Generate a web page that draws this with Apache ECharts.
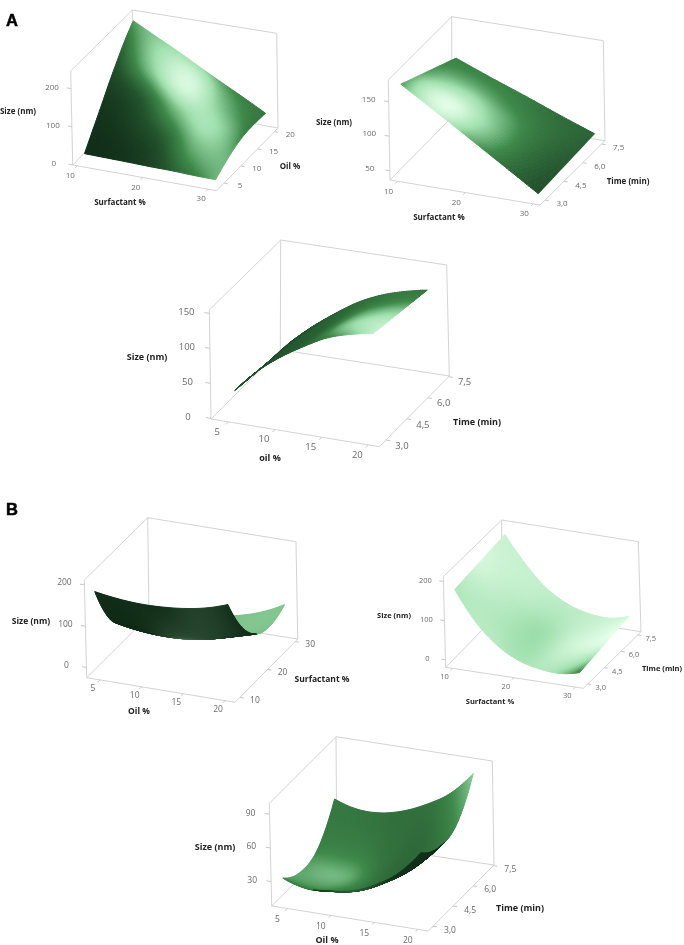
<!DOCTYPE html>
<html>
<head>
<meta charset="utf-8">
<style>
  html, body { margin: 0; background: #fff; }
  #chart { width: 684px; height: 945px; }
</style>
<script src="https://cdn.jsdelivr.net/npm/echarts@6/dist/echarts.min.js"></script>
</head>
<body>
<div id="chart"></div>
<script>
// values
const oilA1 = [5, 7.5, 10, 12.5, 15, 17.5, 20];
const surfA1 = [10, 13.33, 16.67, 20, 23.33, 26.67, 30];
const sizeA1 = [
  [12, 11, 10, 8.5, 8, 6, 5],
  [50, 45, 40, 35, 30, 25, 20],
  [88, 79, 70, 60, 51, 42, 33],
  [128, 114, 100, 85, 71, 56, 42],
  [165, 145, 125, 105, 86, 66, 46],
  [200, 175, 148, 123, 98, 72, 46],
  [229, 198, 168, 136, 105, 75, 44]
];

const surfA2 = [10, 15, 20, 25, 30];
const timeA2 = [3, 4.5, 6, 7.5];
const sizeA2 = [
  [170, 138.5, 107, 75.5, 44],
  [156, 128, 101, 73, 46],
  [142, 118, 95, 71, 48],
  [128, 108, 89, 69, 50]
];

const oilA3 = [5, 7.5, 10, 12.5, 15, 17.5, 20];
const timeA3 = [3, 4.3, 5.6, 6.9];
const sizeA3 = [
  [34, 67, 92, 112, 129, 139, 145],
  [30, 62, 87, 107, 124, 134, 140],
  [27, 57, 82, 102, 118, 128, 135],
  [24.5, 53, 77, 98, 113, 123, 130]
];

const oilB1 = [4, 6.67, 9.33, 12, 14.67, 17.33, 20];
const surfB1 = [10, 15, 20, 25, 30];
const sizeB1 = [
  [174, 166, 162, 163, 168, 178, 195],
  [75, 65, 60, 62, 70, 85, 105],
  [30, 22, 19, 20, 28, 42, 57],
  [8, 0, -3, 0, 8, 24, 45],
  [5, 5, 4, 8, 18, 35, 61]
];

const surfB2 = [10, 13.33, 16.67, 20, 23.33, 26.67, 30];
const timeB2 = [3, 4.5, 6, 7.5];
const sizeB2 = [
  [171, 95, 45, 15, 1, -3, 7],
  [176, 103, 52, 21, 6, 3, 13],
  [181, 110, 58, 27, 11, 8, 20],
  [186, 118, 65, 33, 17, 13, 26]
];

const oilB3 = [4, 6.67, 9.33, 12, 14.67, 17.33, 20];
const timeB3 = [3, 4.3, 5.6, 6.9];
const sizeB3 = [
  [30, 24, 25, 28.5, 37, 50.5, 72],
  [20, 14, 14, 18, 28, 41, 61],
  [25, 19, 19, 23, 32, 45, 65],
  [54, 48, 48, 53, 62, 74.5, 95]
];

// tick labels
const oilTicks = ['5', '10', '15', '20'];
const surfTicks = ['10', '20', '30'];
const timeTicks = ['3,0', '4,5', '6,0', '7,5'];
const sizeTicksA1 = ['0', '100', '200'];
const sizeTicksA2 = ['50', '100', '150'];
const sizeTicksA3 = ['0', '50', '100', '150'];
const sizeTicksB = ['0', '100', '200'];
const sizeTicksB3 = ['30', '60', '90'];

// colour ramps and light maps (5x5, rows along the depth axis)
const ramp = ['#0f2a16', '#24552e', '#3f8a4b', '#a0e0ae', '#e6ffea'];
const grayRamp = ['#0f2a16', '#2a4a33', '#5e8a6c'];
const lightA1 = [
  [.02, .05, .15, .38, .62],
  [.05, .12, .28, .62, .62],
  [.14, .28, .62, .78, .5],
  [.3, .72, .95, .68, .42],
  [.56, .72, .75, .5, .42]
];
const lightA2 = [
  [.55, .9, .62, .38, .22],
  [.62, .98, .72, .42, .24],
  [.55, .8, .65, .42, .27],
  [.5, .58, .5, .4, .3],
  [.46, .46, .44, .36, .32]
];
const lightA3 = [
  [.18, .25, .32, .55, .88],
  [.18, .26, .34, .72, .85],
  [.2, .28, .35, .62, .7],
  [.2, .28, .36, .46, .5],
  [.2, .28, .36, .42, .42]
];
const lightB1 = [
  [.65, .65, .65, .65, .65],
  [.65, .65, .65, .65, .65],
  [.65, .65, .65, .65, .65],
  [.65, .65, .65, .67, .67],
  [.65, .65, .65, .67, .67]
];
const underB1 = [
  [.03, .05, .1, .35, .1],
  [.03, .05, .45, .4, .06],
  [.03, .1, 1, .3, .05],
  [.03, .05, .3, .08, .03],
  [.03, .03, .03, .03, .03]
];
const lightB2 = [
  [.8, .84, .78, .8, .46],
  [.87, .81, .75, .87, .76],
  [.94, .83, .75, .92, .96],
  [.92, .87, .81, .9, 1],
  [.89, .88, .85, .88, .93]
];
const lightB3 = [
  [.5, .42, .38, .37, .36],
  [.58, .54, .4, .36, .4],
  [.56, .62, .39, .35, .45],
  [.44, .46, .38, .36, .55],
  [.42, .4, .37, .42, .7]
];
const underB3 = [
  [.04, .1, .3, .1, .04],
  [.04, .08, .2, .06, .03],
  [.03, .05, .05, .03, .03],
  [.03, .03, .03, .03, .03],
  [.03, .03, .03, .03, .03]
];

const panels = [
  {
    box: { fl: [72.7, 165], fr: [216.7, 190.7], br: [278, 128], bl: [133.5, 102], tl: [70.7, 71], tfr: [215, 94.5], tr: [276.7, 33.3], tb: [132.3, 10] },
    xr: [9.3, 31.3], yr: [2.8, 21.1], zr: [0, 246],
    xs: surfA1, ys: oilA1, z: sizeA1, top: lightA1, under: lightA1,
    xt: surfTicks, yt: oilTicks, zt: sizeTicksA1,
    xo: [-7, 10], yo: [16, 3], zo: [-19, -1], tickFont: 8,
    titles: [['Size (nm)', 18, 112], ['Surfactant %', 120, 203], ['Oil %', 290, 167]], titleFont: 8
  },
  {
    box: { fl: [390, 180], fr: [540, 205], br: [605, 140.7], bl: [452, 117], tl: [388.3, 80], tfr: [540, 104], tr: [603.3, 40.7], tb: [451.7, 16.7] },
    xr: [8.9, 31], yr: [2.6, 7.77], zr: [36.5, 181.4],
    xs: surfA2, ys: timeA2, z: sizeA2, top: lightA2, under: lightA2,
    xt: surfTicks, yt: timeTicks, zt: sizeTicksA2,
    xo: [-9, 10], yo: [17, 4], zo: [-20, -2], tickFont: 8,
    titles: [['Size (nm)', 334, 123], ['Surfactant %', 439, 218], ['Time (min)', 628, 182]], titleFont: 8
  },
  {
    box: { fl: [211, 419], fr: [379.3, 446.7], br: [449.3, 376], bl: [280.3, 349.7], tl: [209.3, 310], tfr: [376.7, 335], tr: [446.7, 265], tb: [280.7, 240] },
    xr: [3.15, 21.17], yr: [2.52, 7.55], zr: [-1, 154.8],
    xs: oilA3, ys: timeA3, z: sizeA3, top: lightA3, under: lightA3,
    xt: oilTicks, yt: timeTicks, zt: sizeTicksA3,
    xo: [-11, 10], yo: [16, 6], zo: [-23, -1], tickFont: 9.5,
    titles: [['Size (nm)', 147, 357], ['oil %', 270, 458], ['Time (min)', 477, 422]], titleFont: 9
  },
  {
    box: { fl: [86.7, 677.7], fr: [235, 702.3], br: [297.7, 639], bl: [149, 615.7], tl: [84.3, 580], tfr: [232.7, 604], tr: [296, 541.7], tb: [147.7, 517.7] },
    xr: [3.4, 21.2], yr: [8.2, 30.9], zr: [-25, 212],
    xs: oilB1, ys: surfB1, z: sizeB1, top: lightB1, under: underB1, underRamp: grayRamp,
    xt: oilTicks, yt: surfTicks, zt: sizeTicksB,
    xo: [-7, 9], yo: [15, 3], zo: [-20, -2], tickFont: 8.5,
    titles: [['Size (nm)', 31, 622], ['Oil %', 139, 712], ['Surfactant %', 322, 680]], titleFont: 8.5
  },
  {
    box: { fl: [445.7, 667.3], fr: [583.3, 688.3], br: [641, 631.7], bl: [501.7, 610], tl: [443.3, 576.7], tfr: [580, 598.3], tr: [638.3, 541.7], tb: [501.7, 520] },
    xr: [8.9, 31.3], yr: [2.6, 7.8], zr: [-19, 212],
    xs: surfB2, ys: timeB2, z: sizeB2, top: lightB2, under: lightB2,
    xt: surfTicks, yt: timeTicks, zt: sizeTicksB,
    xo: [-8, 9], yo: [13, 4], zo: [-18, -1], tickFont: 7.5,
    titles: [['Size (nm)', 394, 616], ['Surfactant %', 490, 702], ['Time (min)', 662, 669]], titleFont: 7.5
  },
  {
    box: { fl: [271.7, 906], fr: [428.3, 931], br: [494, 865], bl: [336.7, 841.7], tl: [269.3, 803.3], tfr: [426, 827.7], tr: [492.3, 761], tb: [336, 736.7] },
    xr: [3.2, 21.2], yr: [2.65, 7.55], zr: [8.3, 99.7],
    xs: oilB3, ys: timeB3, z: sizeB3, top: lightB3, under: underB3,
    xt: oilTicks, yt: timeTicks, zt: sizeTicksB3,
    xo: [-10, 11], yo: [17, 4], zo: [-19, -1], tickFont: 8.5,
    titles: [['Size (nm)', 215, 847], ['Oil %', 327, 940], ['Time (min)', 520, 908]], titleFont: 9
  }
];

const tickNum = (s) => parseFloat(s.replace(',', '.'));
const lerp2 = (a, b, t) => [a[0] + (b[0] - a[0]) * t, a[1] + (b[1] - a[1]) * t];

// trilinear map of the box corners, close enough to the perspective of the original
function project(p, x, y, z) {
  const u = (x - p.xr[0]) / (p.xr[1] - p.xr[0]);
  const v = (y - p.yr[0]) / (p.yr[1] - p.yr[0]);
  const w = (z - p.zr[0]) / (p.zr[1] - p.zr[0]);
  const b = p.box;
  const low = lerp2(lerp2(b.fl, b.fr, u), lerp2(b.bl, b.br, u), v);
  const high = lerp2(lerp2(b.tl, b.tfr, u), lerp2(b.tb, b.tr, u), v);
  return lerp2(low, high, w);
}

function catmull(a, b, c, d, t) {
  return 0.5 * (2 * b + (c - a) * t + (2 * a - 5 * b + 4 * c - d) * t * t + (3 * b - a - 3 * c + d) * t * t * t);
}

// one step past the ends of a list, keeps the curve from wobbling at the rim
function pick(list, k) {
  const n = list.length - 1;
  if (k < 0) return list.length > 2 ? 3 * list[0] - 3 * list[1] + list[2] : 2 * list[0] - list[1];
  if (k > n) return list.length > 2 ? 3 * list[n] - 3 * list[n - 1] + list[n - 2] : 2 * list[n] - list[n - 1];
  return list[k];
}

// smooth reading of a small grid, s and t are in 0..1
function sampleGrid(grid, s, t) {
  const rows = grid.length - 1;
  const cols = grid[0].length - 1;
  const fi = Math.min(s * cols, cols - 1e-6);
  const fj = Math.min(t * rows, rows - 1e-6);
  const i = Math.floor(fi);
  const j = Math.floor(fj);
  const along = (row) => catmull(pick(row, i - 1), row[i], row[i + 1], pick(row, i + 2), fi - i);
  const across = grid.map(along);
  return catmull(pick(across, j - 1), across[j], across[j + 1], pick(across, j + 2), fj - j);
}

function renderSurfaceCell(p, params, api) {
  const i = api.value(0);
  const j = api.value(1);
  const cols = p.xs.length - 1;
  const rows = p.ys.length - 1;
  const subX = Math.round(60 / cols);
  const subY = Math.round(60 / rows);
  const point = (s, t) => {
    const x = p.xs[0] + (p.xs[cols] - p.xs[0]) * s;
    const y = p.ys[0] + (p.ys[rows] - p.ys[0]) * t;
    return api.coord(project(p, x, y, sampleGrid(p.z, s, t)));
  };
  const children = [];
  for (let b = subY - 1; b >= 0; b--) {
    for (let a = 0; a < subX; a++) {
      const s0 = (i + a / subX) / cols;
      const s1 = (i + (a + 1) / subX) / cols;
      const t0 = (j + b / subY) / rows;
      const t1 = (j + (b + 1) / subY) / rows;
      const q = [point(s0, t0), point(s1, t0), point(s1, t1), point(s0, t1)];
      let area = 0;
      for (let k = 0; k < 4; k++) {
        const n = q[(k + 1) % 4];
        area += q[k][0] * n[1] - n[0] * q[k][1];
      }
      const map = area < 0 ? p.top : p.under;
      const l = Math.max(0, Math.min(1, sampleGrid(map, (s0 + s1) / 2, (t0 + t1) / 2)));
      const color = echarts.color.lerp(l, area >= 0 && p.underRamp ? p.underRamp : ramp);
      children.push({
        type: 'polygon',
        shape: { points: q },
        style: { fill: color, stroke: color, lineWidth: 1 }
      });
    }
  }
  return { type: 'group', children: children };
}

function renderFrame(p, params, api) {
  const b = p.box;
  const edges = [
    [b.fl, b.fr], [b.fr, b.br], [b.br, b.bl], [b.bl, b.fl],
    [b.fl, b.tl], [b.tl, b.tb], [b.tb, b.tr], [b.tr, b.br], [b.tb, b.bl]
  ];
  return {
    type: 'group',
    children: edges.map((e) => ({
      type: 'line',
      shape: { x1: api.coord(e[0])[0], y1: api.coord(e[0])[1], x2: api.coord(e[1])[0], y2: api.coord(e[1])[1] },
      style: { stroke: '#d4d4d4', lineWidth: 1 }
    }))
  };
}

function renderTicks(p, params, api) {
  const children = [];
  const font = p.tickFont + 'px "Open Sans", sans-serif';
  const add = (from, to, label, off) => {
    const a = api.coord(from);
    const c = api.coord(to);
    children.push({
      type: 'line',
      shape: { x1: a[0], y1: a[1], x2: c[0], y2: c[1] },
      style: { stroke: '#c8c8c8', lineWidth: 1 }
    });
    children.push({
      type: 'text',
      style: { text: label, x: a[0] + off[0], y: a[1] + off[1], fill: '#6a6a6a', font: font, align: 'center', verticalAlign: 'middle' }
    });
  };
  const dv = (p.yr[1] - p.yr[0]) * 0.035;
  const du = (p.xr[1] - p.xr[0]) * 0.025;
  const dz = (p.xr[1] - p.xr[0]) * 0.03;
  p.xt.forEach((t) => {
    const x = tickNum(t);
    add(project(p, x, p.yr[0], p.zr[0]), project(p, x, p.yr[0] - dv, p.zr[0]), t, p.xo);
  });
  p.yt.forEach((t) => {
    const y = tickNum(t);
    add(project(p, p.xr[1], y, p.zr[0]), project(p, p.xr[1] + du, y, p.zr[0]), t, p.yo);
  });
  p.zt.forEach((t) => {
    const z = tickNum(t);
    add(project(p, p.xr[0], p.yr[0], z), project(p, p.xr[0] - dz, p.yr[0], z), t, p.zo);
  });
  return { type: 'group', children: children };
}

const series = [];
panels.forEach((p) => {
  series.push({
    type: 'custom', silent: true, animation: false, clip: false, z: 1,
    data: [[0, 0]],
    renderItem: (params, api) => renderFrame(p, params, api)
  });
  const cells = [];
  for (let j = p.ys.length - 2; j >= 0; j--) {
    for (let i = 0; i < p.xs.length - 1; i++) cells.push([i, j]);
  }
  series.push({
    type: 'custom', silent: true, animation: false, clip: false, z: 2,
    data: cells,
    renderItem: (params, api) => renderSurfaceCell(p, params, api)
  });
  series.push({
    type: 'custom', silent: true, animation: false, clip: false, z: 3,
    data: [[0, 0]],
    renderItem: (params, api) => renderTicks(p, params, api)
  });
});

const letterStyle = { font: 'bold 16.5px "Liberation Sans", sans-serif', fill: '#000', stroke: '#000', lineWidth: 0.5, align: 'center', verticalAlign: 'middle' };
const textItems = [
  { type: 'text', x: 12, y: 21, style: Object.assign({ text: 'A' }, letterStyle) },
  { type: 'text', x: 12, y: 510, style: Object.assign({ text: 'B' }, letterStyle) }
];
panels.forEach((p) => {
  p.titles.forEach((t) => {
    textItems.push({
      type: 'text', x: t[1], y: t[2],
      style: { text: t[0], font: 'bold ' + p.titleFont + 'px "Open Sans", sans-serif', fill: '#222', align: 'center', verticalAlign: 'middle' }
    });
  });
});

const myChart = echarts.init(document.getElementById('chart'), null, { renderer: 'canvas' });
myChart.setOption({
  animation: false,
  backgroundColor: '#fff',
  grid: { left: 0, right: 0, top: 0, bottom: 0 },
  xAxis: { type: 'value', min: 0, max: 684, show: false },
  yAxis: { type: 'value', min: 0, max: 945, inverse: true, show: false },
  graphic: { elements: textItems },
  series: series
});
</script>
</body>
</html>
